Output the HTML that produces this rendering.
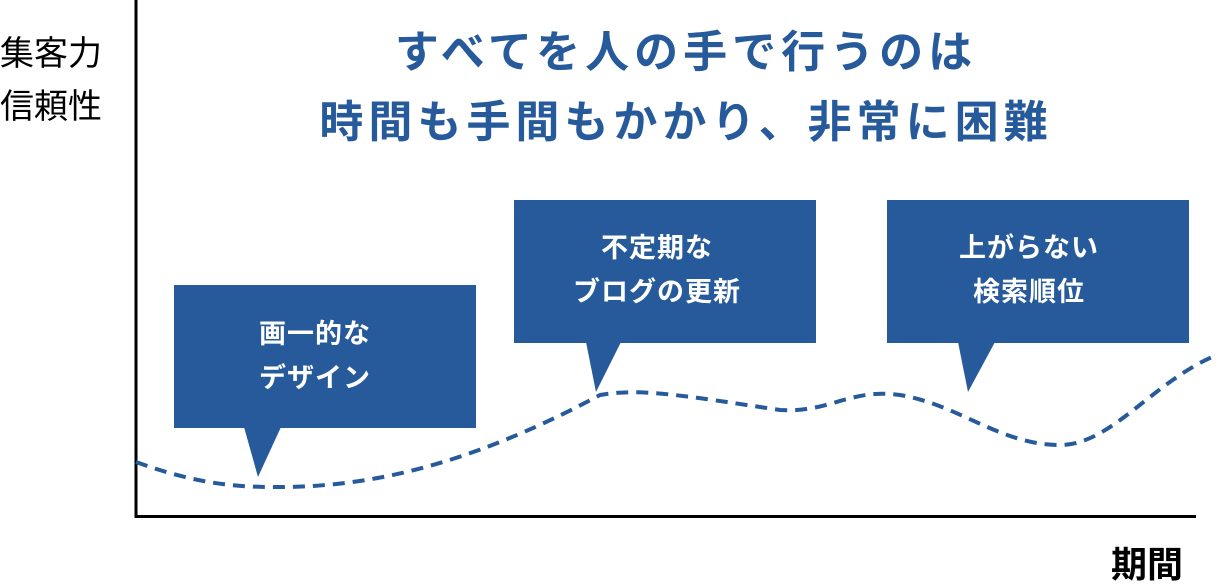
<!DOCTYPE html>
<html><head><meta charset="utf-8"><style>
body{margin:0;width:1220px;height:587px;background:#fff;overflow:hidden;position:relative;font-family:"Liberation Sans","Noto Sans CJK JP",sans-serif}
.t{position:absolute;white-space:nowrap}
.title{left:0;width:1372px;text-align:center;color:#265a9a;font-weight:bold;font-size:44px;letter-spacing:5px}
.bx{position:absolute;color:#fff;font-weight:bold;font-size:27px;line-height:44px;text-align:center;letter-spacing:1px}
</style></head><body>
<svg width="1220" height="587" style="position:absolute;left:0;top:0">
<line x1="136" y1="0" x2="136" y2="518" stroke="#000" stroke-width="3"/>
<line x1="135" y1="516.5" x2="1196" y2="516.5" stroke="#000" stroke-width="3"/>
<path d="M136,462 C180,478 220,487 270,487 C360,488 460,470 600,395 C640,388 680,395 780,410 C830,413 850,388 900,395 C960,405 1000,445 1060,445 C1110,445 1150,385 1212,357" fill="none" stroke="#265a9a" stroke-width="4" stroke-dasharray="12,8"/>
<rect x="174" y="285" width="302" height="143" fill="#265a9a"/>
<polygon points="244,427 281,427 258,477" fill="#265a9a"/>
<rect x="514" y="200" width="302" height="143" fill="#265a9a"/>
<polygon points="586,342 621,342 596,392" fill="#265a9a"/>
<rect x="887" y="200" width="302" height="143" fill="#265a9a"/>
<polygon points="958,342 995,342 968,392" fill="#265a9a"/>
</svg>
<div class="t" style="left:0;top:28px;font-size:34px;line-height:53px">集客力<br>信頼性</div>
<div class="t title" style="top:16px">すべてを人の手で行うのは</div>
<div class="t title" style="top:86px">時間も手間もかかり、非常に困難</div>
<div class="bx" style="left:164px;width:302px;top:312px">画一的な<br>デザイン</div>
<div class="bx" style="left:506px;width:302px;top:226px">不定期な<br>ブログの更新</div>
<div class="bx" style="left:878px;width:302px;top:226px">上がらない<br>検索順位</div>
<div class="t" style="left:1111px;top:536px;font-size:36px;font-weight:bold">期間</div>
</body></html>
